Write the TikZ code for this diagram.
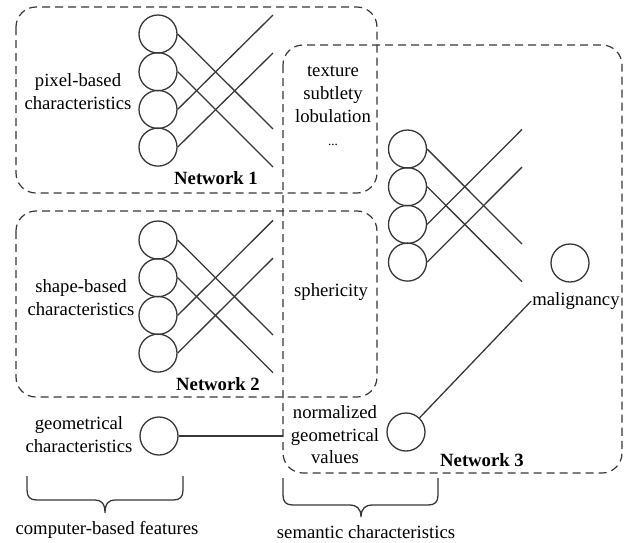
\documentclass[tikz,border=0pt]{standalone}
\usepackage{fontspec}
\setmainfont{Liberation Serif}
\definecolor{lc}{RGB}{55,55,55}
\begin{document}
\begin{tikzpicture}[x=1pt,y=-1pt,
  neuron/.style={circle, draw=lc, line width=1.3pt, minimum size=38pt, inner sep=0pt},
  netbox/.style={draw=lc, dash pattern=on 8pt off 5pt, line width=1.2pt, rounded corners=20pt},
  lbl/.style={font=\fontsize{18.7}{23}\selectfont, align=center, inner sep=1pt, text=black},
  bold/.style={font=\fontsize{18.7}{23}\selectfont\bfseries, inner sep=1pt, text=black},
  wire/.style={draw=lc, line width=1.3pt}]
\useasboundingbox (0,0) rectangle (624,542);

% boxes
\draw[netbox] (16,7) rectangle (377,193);
\draw[netbox] (16,211) rectangle (377,397);
\draw[netbox] (283,45) rectangle (622,473);

% neurons
\foreach \i/\l in {0/a,1/b,2/c,3/d}{
  \node[neuron] (n1\l) at (158,34+37.7*\i) {};
  \node[neuron] (n2\l) at (158,240+37.7*\i) {};
  \node[neuron] (n3\l) at (407.5,149+37.7*\i) {};
}
\node[neuron] (geo) at (159,436) {};
\node[neuron] (nv) at (406,432) {};
\node[neuron] (mc) at (570,263) {};

% free ends
\coordinate (e1a) at (273,129);
\coordinate (e1b) at (273,167);
\coordinate (e1c) at (273,15);
\coordinate (e1d) at (273,53);
\coordinate (e2a) at (273,335);
\coordinate (e2b) at (273,372.7);
\coordinate (e2c) at (273,220.4);
\coordinate (e2d) at (273,258.1);
\coordinate (e3a) at (522,244);
\coordinate (e3b) at (522,281.7);
\coordinate (e3c) at (522,129.4);
\coordinate (e3d) at (522,167.1);
\coordinate (n3left) at (283,436);

\foreach \n in {1,2,3}{
  \foreach \l in {a,b,c,d}{
    \draw[wire] (n\n\l.east) -- (e\n\l);
  }
}

% labels
\node[lbl] (pix) at (78,92) {pixel-based\\characteristics};
\node[lbl] (shp) at (81,298) {shape-based\\characteristics};
\node[lbl] (geol) at (79,435) {geometrical\\characteristics};
\node[bold] (net1) at (216,178) {Network 1};
\node[bold] (net2) at (218,384) {Network 2};
\node[bold] (net3) at (482,460) {Network 3};
\node[lbl] (sem) at (333,106) {texture\\subtlety\\lobulation\\{\fontsize{13}{13}\selectfont ...}};
\node[lbl] (sph) at (331,292) {sphericity};
\node[lbl, font=\fontsize{18.7}{22.5}\selectfont] (norm) at (335,435) {normalized\\geometrical\\values};
\node[lbl] (mal) at (576,301) {malignancy};
\node[lbl] (cbf) at (107,530) {computer-based features};
\node[lbl] (sc) at (366,532) {semantic characteristics};

\draw[wire] (geo) -- (n3left);
\draw[wire] (nv) -- (mal.west);

% braces
\draw[wire] (27,476) -- (27,490) .. controls (27,497) and (30,500) .. (37,500) -- (95,500)
  .. controls (101,500) and (105,503) .. (105,513)
  .. controls (105,503) and (109,500) .. (115,500) -- (173,500)
  .. controls (180,500) and (183,497) .. (183,490) -- (183,476);
\draw[wire] (283,478) -- (283,495) .. controls (283,502) and (286,505) .. (293,505) -- (350,505)
  .. controls (356,505) and (361,508) .. (361,517)
  .. controls (361,508) and (366,505) .. (372,505) -- (428,505)
  .. controls (435,505) and (438,502) .. (438,495) -- (438,478);
\end{tikzpicture}
\end{document}
